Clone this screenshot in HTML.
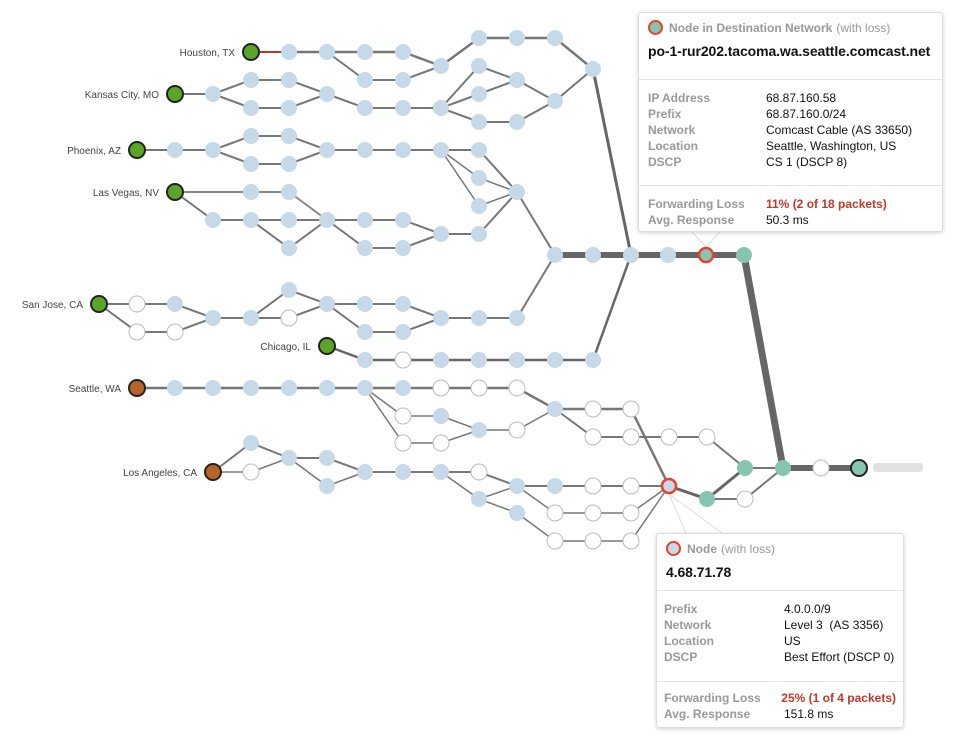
<!DOCTYPE html>
<html><head><meta charset="utf-8"><style>
body{margin:0;background:#fff;width:960px;height:740px;overflow:hidden;font-family:"Liberation Sans",Arial,sans-serif;}
svg{position:absolute;left:0;top:0}
.tip{position:absolute;background:#fff;border:1px solid #ddd;border-radius:3px;box-shadow:0 1px 4px rgba(0,0,0,.18);font-size:12px;color:#111;white-space:nowrap}
.tip .hd{padding:6px 9px 0 9px;box-sizing:border-box}
.tip .t1{color:#999;font-weight:bold;font-size:12px;display:flex;align-items:center}
.tip .t1 span.w{font-weight:normal;margin-left:4px}
.tip .dot{width:11px;height:11px;border-radius:50%;border:2.5px solid #e8402c;margin-right:6px}
.tip .host{font-weight:bold;font-size:14px;margin-top:6px;letter-spacing:-0.1px}
.tip hr{border:0;border-top:1px solid #e4e4e4;margin:0}
.tip .row{display:flex;height:16px;line-height:16px}
.tip .lb{color:#999;font-weight:bold}
.tip .red{color:#c0392b;font-weight:bold}
</style></head><body>
<svg id="g" width="960" height="740"></svg>

<div class="tip" style="left:638px;top:12px;width:303px;height:218px">
 <div class="hd" style="height:66px"><div class="t1" style="margin-top:1px"><div class="dot" style="background:#86c5b0"></div>Node in Destination Network<span class="w">(with loss)</span></div>
 <div class="host" style="margin-top:8px">po-1-rur202.tacoma.wa.seattle.comcast.net</div></div>
 <hr>
 <div style="padding:10px 9px 9px 9px;height:86px">
  <div class="row"><div class="lb" style="width:118px">IP Address</div><div>68.87.160.58</div></div>
  <div class="row"><div class="lb" style="width:118px">Prefix</div><div>68.87.160.0/24</div></div>
  <div class="row"><div class="lb" style="width:118px">Network</div><div>Comcast Cable (AS 33650)</div></div>
  <div class="row"><div class="lb" style="width:118px">Location</div><div>Seattle, Washington, US</div></div>
  <div class="row"><div class="lb" style="width:118px">DSCP</div><div>CS 1 (DSCP 8)</div></div>
 </div>
 <hr>
 <div style="padding:10px 9px">
  <div class="row"><div class="lb" style="width:118px">Forwarding Loss</div><div class="red">11% (2 of 18 packets)</div></div>
  <div class="row"><div class="lb" style="width:118px">Avg. Response</div><div>50.3 ms</div></div>
 </div>
</div>

<div class="tip" style="left:656px;top:533px;width:246px;height:193px">
 <div class="hd" style="height:56px"><div class="t1" style="margin-top:1px"><div class="dot" style="background:#c5d9e8"></div>Node<span class="w">(with loss)</span></div>
 <div class="host" style="margin-top:8px;font-size:14px">4.68.71.78</div></div>
 <hr>
 <div style="padding:10px 7px 0 7px;height:80px">
  <div class="row"><div class="lb" style="width:120px">Prefix</div><div>4.0.0.0/9</div></div>
  <div class="row"><div class="lb" style="width:120px">Network</div><div>Level 3&nbsp; (AS 3356)</div></div>
  <div class="row"><div class="lb" style="width:120px">Location</div><div>US</div></div>
  <div class="row"><div class="lb" style="width:120px">DSCP</div><div>Best Effort (DSCP 0)</div></div>
 </div>
 <hr>
 <div style="padding:8px 7px">
  <div class="row"><div class="lb" style="width:120px">Forwarding Loss</div><div class="red">25% (1 of 4 packets)</div></div>
  <div class="row"><div class="lb" style="width:120px">Avg. Response</div><div>151.8 ms</div></div>
 </div>
</div>

<script>
// chains of node coordinates "x,y" ; width
const chains = [
 [["251,52","289,52"],2,"#b03a2e"],
 [["289,52","327,52","365,52","403,52","441,66","479,38","517,38","555,38","593,69"],2.5,"#777"],
 [["327,52","365,80","403,80","441,66"],2,"#777"],
 [["175,94","213,94","251,80","289,80","327,94","365,108","403,108","441,108","479,66","517,80","555,101","593,69"],2,"#777"],
 [["213,94","251,108","289,108","327,94"],2,"#777"],
 [["441,108","479,94","517,80"],2,"#777"],
 [["441,108","479,122","517,122","555,101"],2,"#777"],
 [["593,69","631,255"],3,"#666"],
 [["137,150","175,150","213,150","251,136","289,136","327,150","365,150","403,150","441,150","479,150","517,192"],2,"#777"],
 [["213,150","251,164","289,164","327,150"],2,"#777"],
 [["441,150","479,178","517,192"],1.5,"#777"],
 [["441,150","479,206","517,192"],1.5,"#777"],
 [["175,192","251,192","289,192","327,220"],2,"#888"],
 [["175,192","213,220","251,220","289,220","327,220","365,220","403,220","441,234","479,234","517,192","555,255"],2,"#777"],
 [["251,220","289,248","327,220","365,248","403,248","441,234"],2,"#777"],
 [["555,255","593,255","631,255","668,255","706,255","744,255"],6,"#666"],
 [["99,304","137,304","175,304","213,318","251,318","289,290","327,304","365,304","403,304","441,318","479,318","517,318","555,255"],2,"#777"],
 [["99,304","137,332","175,332","213,318"],2,"#777"],
 [["251,318","289,318","327,304","365,332","403,332","441,318"],2,"#777"],
 [["327,346","365,360","403,360","441,360","479,360","517,360","555,360","593,360","631,255"],2.5,"#666"],
 [["744,255","783,468"],7,"#666"],
 [["783,468","821,468","859,468"],6,"#666"],
 [["137,388","175,388","213,388","251,388","289,388","327,388","365,388","403,388","441,388","479,388","517,388","555,409","593,409","631,409","669,486"],2.5,"#777"],
 [["365,388","403,416","441,416","479,430","517,430","555,409"],1.5,"#777"],
 [["365,388","403,443","441,443","479,430"],1.5,"#777"],
 [["555,409","593,437","631,437","669,437","707,437","745,468","783,468"],2,"#777"],
 [["213,472","251,443","289,458","327,458","365,472","403,472","441,472","479,472","517,486","555,486","593,486","631,486","669,486"],2,"#777"],
 [["213,472","251,472","289,458","327,486","365,472"],1.5,"#777"],
 [["441,472","479,499","517,486","555,513","593,513","631,513","669,486"],1.5,"#777"],
 [["479,499","517,513","555,541","593,541","631,541","669,486"],1.5,"#777"],
 [["669,486","707,499","745,468"],3,"#666"],
 [["707,499","745,499","783,468"],2,"#777"]
];
const nodeKinds = {"251,52":"s","175,94":"s","137,150":"s","175,192":"s","99,304":"s","327,346":"s","137,388":"o","213,472":"o",
 "137,304":"w","137,332":"w","175,332":"w","289,318":"w","403,360":"w",
 "441,388":"w","479,388":"w","517,388":"w","403,416":"w","403,443":"w","441,443":"w","517,430":"w","593,409":"w","631,409":"w",
 "593,437":"w","631,437":"w","669,437":"w","707,437":"w","251,472":"w","479,472":"w","593,486":"w","631,486":"w",
 "555,513":"w","593,513":"w","631,513":"w","555,541":"w","593,541":"w","631,541":"w","745,499":"w","821,468":"w",
 "706,255":"tl","744,255":"t","745,468":"t","783,468":"t","707,499":"t","859,468":"d","669,486":"bl"};
const sourceLabels = [["Houston, TX","251,52"],["Kansas City, MO","175,94"],["Phoenix, AZ","137,150"],["Las Vegas, NV","175,192"],
 ["San Jose, CA","99,304"],["Chicago, IL","327,346"],["Seattle, WA","137,388"],["Los Angeles, CA","213,472"]];

const NS="http://www.w3.org/2000/svg", g=document.getElementById('g');
const P=s=>s.split(',').map(Number);
[["706,247","692,232"],["706,247","720,232"],["669,494","686,533"],["669,494","722,533"]].forEach(l=>{
 const a=P(l[0]),b=P(l[1]);const e=document.createElementNS(NS,'line');
 e.setAttribute('x1',a[0]);e.setAttribute('y1',a[1]);e.setAttribute('x2',b[0]);e.setAttribute('y2',b[1]);
 e.setAttribute('stroke','#ddd');e.setAttribute('stroke-width','1');
 
 
 g.appendChild(e);});
const nodes=new Set();
chains.forEach(c=>{
 const pts=c[0];pts.forEach(p=>nodes.add(p));
 const e=document.createElementNS(NS,'polyline');
 e.setAttribute('points',pts.join(' '));
 e.setAttribute('fill','none');e.setAttribute('stroke',c[2]);e.setAttribute('stroke-width',c[1]);
 
 
 g.appendChild(e);
});
nodes.forEach(n=>{
 const [x,y]=P(n);const k=nodeKinds[n]||'b';
 const c=document.createElementNS(NS,'circle');
 c.setAttribute('cx',x);c.setAttribute('cy',y);
 let fill='#c5d9e8',st='none',sw=0,r=8;
 if(k==='s'){fill='#5aa428';st='#222';sw=2;}
 if(k==='o'){fill='#b8632a';st='#222';sw=2;}
 if(k==='w'){fill='#fff';st='#bbb';sw=1;}
 if(k==='t'){fill='#86c5b0';}
 if(k==='d'){fill='#86c5b0';st='#222';sw=2;}
 if(k==='tl'){fill='#86c5b0';st='#e8402c';sw=2.5;r=7;}
 if(k==='bl'){fill='#c5d9e8';st='#e8402c';sw=2.5;r=7;}
 c.setAttribute('r',r);c.setAttribute('fill',fill);c.setAttribute('stroke',st);c.setAttribute('stroke-width',sw);
 
 
 g.appendChild(c);
});
sourceLabels.forEach(s=>{
 const [x,y]=P(s[1]);const t=document.createElementNS(NS,'text');
 t.setAttribute('x',x-16);t.setAttribute('y',y+4);t.setAttribute('text-anchor','end');
 t.setAttribute('font-size','10');t.setAttribute('fill','#444');t.setAttribute('font-family','Liberation Sans, sans-serif');
 t.textContent=s[0];
 
 
 g.appendChild(t);
});
const d=document.createElementNS(NS,'rect');
d.setAttribute('x',873);d.setAttribute('y',463);d.setAttribute('width',50);d.setAttribute('height',9);d.setAttribute('rx',3);
d.setAttribute('fill','#e2e2e2');


g.appendChild(d);
</script>
</body></html>
